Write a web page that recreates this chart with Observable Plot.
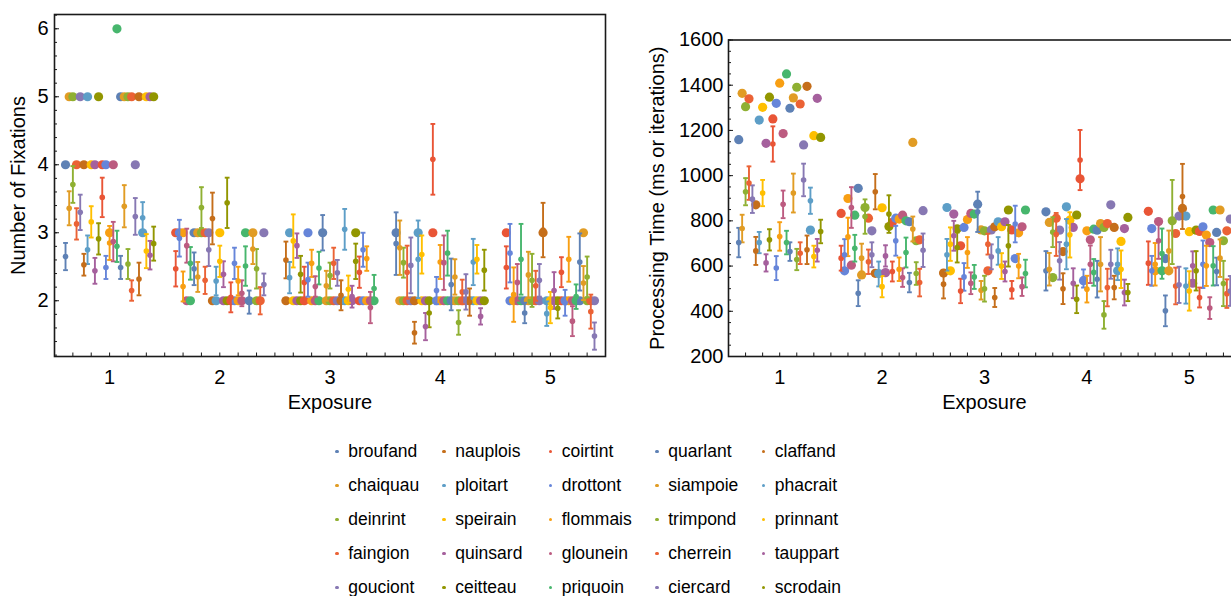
<!DOCTYPE html>
<html><head><meta charset="utf-8">
<script src="https://cdn.jsdelivr.net/npm/d3@7"></script>
<script src="https://cdn.jsdelivr.net/npm/@observablehq/plot@0.6"></script>
<style>
html,body{margin:0;padding:0;background:#fff;}
body{width:1231px;height:596px;overflow:hidden;position:relative;font-family:"Liberation Sans",Arial,sans-serif;}
#left{position:absolute;left:0;top:0;width:610px;height:420px;}
#right{position:absolute;left:640px;top:0;width:610px;height:420px;}
#left svg,#right svg{max-width:none !important;}
.item{position:absolute;font-size:17.5px;color:#000;white-space:nowrap;line-height:20px;height:20px;}
.item .dot{position:absolute;left:0;top:8.5px;width:3.5px;height:3.5px;border-radius:50%;}
.item .lbl{position:absolute;left:13px;top:0;}
</style>
</head><body>
<div id="left"></div>
<div id="right"></div>
<div id="legend"></div>
<script>
const words = ["broufand","chaiquau","deinrint","faingion","gouciont","nauplois","ploitart","speirain","quinsard","ceitteau","coirtint","drottont","flommais","glounein","priquoin","quarlant","siampoie","trimpond","cherrein","ciercard","claffand","phacrait","prinnant","tauppart","scrodain"];
const exposures = [1,2,3,4,5];
const palette = ["#5E81B5","#E19C24","#8FB032","#EB6235","#8778B3","#C56E1A","#5D9EC7","#FFBF00","#A5609D","#929600","#E95536","#6685D9","#F89F13","#BC5B80","#47B66D"];
const xTicks = [1,2,3,4,5];
const fixTicks = [2,3,4,5,6];
const timeTicks = [200,400,600,800,1000,1200,1400,1600];

// Number of fixations: single-value points (large) per exposure, 25 words each
const fixBig = [
  [4,5,5,4,5,4,5,4,4,5,4,4,3,4,6,5,5,5,5,4,5,3,5,5,5],
  [3,3,3,2,2,3,3,3,3,3,2,2,3,2,2,2,2,2,2,3,2,3,2,2,3],
  [2,3,2,2,2,2,3,2,2,2,3,2,2,2,2,2,2,2,2,3,2,2,2,2,2],
  [3,2,2,2,2,2,3,2,2,2,3,2,2,2,2,2,2,2,2,2,2,2,2,2,2],
  [3,2,2,2,2,2,2,2,2,2,3,2,2,2,2,2,2,2,2,2,2,3,2,2,2]
];
const fixMean = [
  [2.65,3.36,3.71,3.13,3.30,2.53,2.75,3.16,2.44,2.91,3.52,2.49,2.85,2.87,2.80,2.49,3.39,2.54,2.15,3.24,2.32,3.22,2.73,2.67,2.84],
  [2.47,2.92,2.21,2.81,2.55,2.47,2.35,3.37,2.30,2.75,3.21,2.29,2.58,2.39,3.44,2.05,2.55,2.29,2.11,2.51,1.98,2.76,2.47,2.00,2.24],
  [2.60,2.34,2.88,2.81,2.39,2.27,2.31,2.55,2.21,2.48,3.00,2.22,2.37,2.55,2.41,2.08,3.05,2.17,2.06,2.58,2.42,2.75,2.62,1.90,2.18],
  [2.84,2.78,2.56,2.42,2.52,1.53,2.61,2.68,1.62,1.82,4.08,2.15,2.57,2.56,2.70,2.24,2.35,1.68,2.13,2.13,1.98,2.57,2.61,1.77,2.45],
  [2.49,2.70,2.09,2.27,2.61,1.82,2.38,2.30,2.22,2.30,3.04,1.81,1.90,2.15,1.89,2.42,1.97,2.61,1.70,2.06,2.57,2.26,2.35,1.84,1.48]
];
const fixErr = [
  [0.20,0.25,0.27,0.23,0.26,0.16,0.21,0.23,0.19,0.23,0.29,0.17,0.25,0.29,0.23,0.17,0.31,0.22,0.15,0.27,0.24,0.23,0.25,0.21,0.25],
  [0.26,0.27,0.22,0.25,0.24,0.24,0.22,0.30,0.20,0.24,0.38,0.21,0.23,0.19,0.37,0.22,0.23,0.21,0.19,0.29,0.17,0.22,0.29,0.20,0.16],
  [0.27,0.23,0.39,0.18,0.27,0.23,0.25,0.20,0.15,0.24,0.26,0.22,0.19,0.23,0.19,0.22,0.30,0.20,0.16,0.26,0.23,0.25,0.18,0.23,0.20],
  [0.46,0.40,0.22,0.39,0.41,0.16,0.57,0.28,0.20,0.21,0.52,0.20,0.25,0.40,0.33,0.38,0.26,0.18,0.18,0.26,0.20,0.34,0.21,0.12,0.30],
  [0.31,0.43,0.40,0.27,0.52,0.15,0.34,0.39,0.22,0.24,0.40,0.18,0.23,0.27,0.15,0.22,0.19,0.33,0.22,0.18,0.42,0.25,0.30,0.25,0.20]
];
// Processing time
const timeBig = [
  [1159,1364,1305,1340,null,871,1246,1302,1143,1347,1251,1320,1409,1186,1450,1298,1344,1391,1317,1136,1395,759,1177,1342,1169],
  [833,579,899,604,825,944,561,859,812,756,568,567,858,571,775,793,812,808,825,800,796,1147,712,716,845],
  [569,859,579,830,765,690,771,806,833,830,874,760,756,579,760,774,796,774,796,848,760,633,747,774,848],
  [840,793,549,812,759,664,862,803,771,826,986,535,756,716,763,759,788,771,788,871,771,579,709,766,815],
  [842,766,579,797,579,633,579,800,744,821,855,821,752,524,759,753,774,737,704,848,749,848,712,756,808]
];
const timeMean = [
  [704,766,929,967,896,667,704,923,614,716,1140,591,731,873,704,664,923,629,657,981,672,889,642,670,753],
  [635,650,729,859,679,480,635,819,619,650,929,565,509,645,830,576,712,586,549,660,527,764,567,527,670],
  [520,650,697,734,682,490,552,660,524,552,840,493,500,697,641,461,667,600,576,690,495,786,600,509,567],
  [579,586,750,740,623,500,697,738,524,453,1069,545,498,608,572,542,608,384,505,608,505,608,586,483,483],
  [613,579,608,712,655,402,667,795,512,517,908,512,490,601,579,461,608,601,414,601,576,635,523,478,490]
];
const timeErr = [
  [65,61,60,74,61,62,47,58,38,47,78,53,63,61,52,41,86,47,48,72,63,58,48,50,52],
  [55,69,85,90,59,57,64,76,54,55,78,55,47,47,83,44,66,52,41,66,43,55,50,61,74],
  [63,70,74,66,66,54,61,68,48,53,89,41,57,46,55,42,61,57,44,92,39,81,54,41,61],
  [87,72,66,95,83,68,111,100,66,61,133,40,59,83,59,81,120,61,83,64,52,70,83,57,38],
  [96,66,94,80,111,68,90,186,81,80,144,78,87,64,87,44,105,89,48,87,61,83,100,63,66]
];

function buildRows(big, mean, err) {
  const rows = [];
  exposures.forEach((e, ei) => {
    words.forEach((w, i) => {
      rows.push({
        word: w,
        x: e + (i - 12) / 30,
        slot: (25 * ei + i) % 15,
        big: big[ei][i],
        mean: mean[ei][i],
        err: err[ei][i]
      });
    });
  });
  return rows;
}

const cap = {draw(ctx) { ctx.moveTo(-2.4, 0); ctx.lineTo(2.4, 0); }};
const FONT = '"Liberation Sans", Arial, sans-serif';
const fmt = d => String(d);

function panel(rows, o) {
  return Plot.plot({
    width: o.width, height: 420,
    marginLeft: o.ml, marginRight: o.mr, marginTop: o.mt, marginBottom: 64,
    x: {domain: [0.5, 5.5], label: null},
    y: {domain: o.ydom, label: null},
    color: {type: "ordinal", domain: d3.range(15), range: palette},
    style: {fontFamily: FONT, fontSize: "20px", color: "#000", background: "transparent", overflow: "visible"},
    marks: [
      Plot.dot(rows.filter(d => d.big != null), {x: "x", y: "big", r: 4.6, fill: "slot"}),
      Plot.ruleX(rows, {x: "x", y1: d => d.mean - d.err, y2: d => d.mean + d.err, stroke: "slot", strokeWidth: 1.9}),
      Plot.dot(rows, {x: "x", y: d => d.mean - d.err, symbol: cap, r: 3, fill: "none", stroke: "slot", strokeWidth: 1.9}),
      Plot.dot(rows, {x: "x", y: d => d.mean + d.err, symbol: cap, r: 3, fill: "none", stroke: "slot", strokeWidth: 1.9}),
      Plot.dot(rows, {x: "x", y: "mean", r: 2.8, fill: "slot"}),
      Plot.frame({stroke: "#1a1a1a", strokeWidth: 1.6}),
      Plot.axisX(d3.range(3, 34).map(k => k / 6), {tickSize: -3.5, tickFormat: () => "", stroke: "#1a1a1a", label: null}),
      Plot.axisX(xTicks, {tickSize: 0, tickPadding: 13, fontSize: 20, tickFormat: fmt, label: null}),
      Plot.axisY(o.yMinor, {tickSize: -3, tickFormat: () => "", stroke: "#1a1a1a", label: null}),
      Plot.axisY(o.yMajor, {tickSize: -5, tickFormat: () => "", stroke: "#1a1a1a", label: null}),
      Plot.axisY(o.yMajor, {tickSize: 0, tickPadding: o.ypad, fontSize: 20, tickFormat: fmt, label: null}),
      Plot.text(["Exposure"], {text: d => d, frameAnchor: "bottom", dy: 52, fontSize: 20}),
      Plot.text([o.ylabel], {text: d => d, frameAnchor: "left", textAnchor: "middle", lineAnchor: "middle", dx: o.ldx, rotate: -90, fontSize: 20})
    ]
  });
}

document.getElementById("left").append(panel(buildRows(fixBig, fixMean, fixErr), {
  width: 610, ml: 54, mr: 5, mt: 14, ydom: [1.18, 6.21],
  yMinor: d3.range(6, 32).map(k => k / 5), yMajor: fixTicks, ypad: 6,
  ylabel: "Number of Fixations", ldx: -36
}));
document.getElementById("right").append(panel(buildRows(timeBig, timeMean, timeErr), {
  width: 610, ml: 88, mr: 10, mt: 39.5, ydom: [200, 1600],
  yMinor: d3.range(4, 33).map(k => k * 50), yMajor: timeTicks, ypad: 5,
  ylabel: "Processing Time (ms or iterations)", ldx: -71
}));

const legend = document.getElementById("legend");
const colX = [337, 444, 550.5, 657, 763.5];
const rowY = [451, 485, 519, 553, 587];
words.forEach((w, j) => {
  const c = Math.floor(j / 5), r = j % 5;
  const it = document.createElement("div");
  it.className = "item";
  it.style.left = (colX[c] - 1.75) + "px";
  it.style.top = (rowY[r] - 10) + "px";
  const dot = document.createElement("span");
  dot.className = "dot";
  dot.style.background = palette[j % 15];
  const lbl = document.createElement("span");
  lbl.className = "lbl";
  lbl.textContent = w;
  it.append(dot, lbl);
  legend.append(it);
});
</script>
</body></html>
